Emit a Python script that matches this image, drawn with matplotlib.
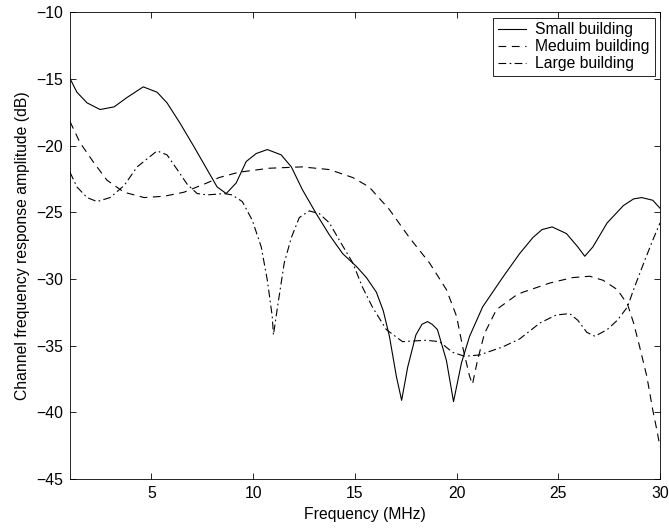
import matplotlib
matplotlib.use('Agg')
import matplotlib.pyplot as plt

plt.rcParams['font.family'] = ['Liberation Sans', 'DejaVu Sans']

# Small building (solid)
small_x = [1.0, 1.34, 1.84, 2.48, 3.17, 3.8, 4.6, 5.28, 5.77, 6.4, 7.1, 7.74, 8.23,
           8.68, 9.17, 9.66, 10.15, 10.7, 11.38, 11.88, 12.42, 13.1, 13.75, 14.4,
           15.1, 15.57, 16.06, 16.4, 16.7, 17.04, 17.3, 17.6, 18.0, 18.3, 18.57,
           18.8, 19.06, 19.5, 19.85, 20.24, 20.64, 21.28, 22.26, 23.1, 23.75,
           24.2, 24.7, 25.4, 25.96, 26.3, 26.7, 27.4, 28.2, 28.7, 29.1, 29.64, 30.0]
small_y = [-14.97, -16.0, -16.8, -17.3, -17.1, -16.4, -15.6, -16.0, -16.8, -18.3,
           -20.1, -21.8, -23.1, -23.6, -22.8, -21.2, -20.6, -20.3, -20.7, -21.6,
           -23.3, -25.1, -26.7, -28.1, -29.1, -29.9, -31.0, -32.4, -34.3, -37.3,
           -39.1, -36.6, -34.2, -33.4, -33.2, -33.4, -33.8, -36.1, -39.2, -36.3,
           -34.3, -32.1, -29.9, -28.1, -26.9, -26.3, -26.1, -26.6, -27.6, -28.3,
           -27.6, -25.8, -24.5, -24.0, -23.9, -24.1, -24.7]

# Medium building (dashed)
medium_x = [1.0, 1.5, 2.18, 2.82, 3.66, 4.64, 5.63, 6.6, 7.74, 8.33, 9.3, 10.8, 12.4,
            13.75, 14.9, 15.7, 16.7, 17.68, 18.67, 19.5, 20.0, 20.3, 20.64, 20.78,
            21.03, 21.37, 21.96, 22.95, 23.25, 24.6, 25.7, 26.55, 27.2, 27.9, 28.4,
            28.7, 29.0, 29.35, 29.64, 29.84, 30.0]
medium_y = [-18.2, -19.8, -21.3, -22.6, -23.5, -23.9, -23.8, -23.5, -22.8, -22.4,
            -22.0, -21.7, -21.6, -21.8, -22.4, -23.1, -24.8, -26.9, -28.8, -30.8,
            -32.8, -35.1, -37.3, -37.9, -36.1, -34.1, -32.3, -31.2, -31.0, -30.3,
            -29.9, -29.8, -30.1, -30.8, -31.9, -33.3, -35.1, -37.3, -39.8, -41.3,
            -42.6]

# Large building (dash-dot)
large_x = [1.0, 1.34, 1.84, 2.33, 2.97, 3.66, 4.3, 5.28, 5.77, 6.27, 6.76, 7.25,
           7.74, 8.58, 8.97, 9.47, 9.96, 10.4, 10.7, 10.94, 11.0, 11.2, 11.53,
           11.88, 12.27, 12.76, 13.25, 13.75, 14.24, 14.9, 15.37, 15.86, 16.55,
           17.34, 18.5, 19.16, 19.8, 20.4, 21.13, 22.26, 23.1, 24.1, 24.9, 25.56,
           25.96, 26.4, 26.8, 27.4, 27.9, 28.4, 28.7, 29.2, 29.64, 30.0]
large_y = [-22.0, -23.1, -23.9, -24.2, -23.9, -23.0, -21.6, -20.4, -20.7, -21.8,
           -22.9, -23.6, -23.7, -23.6, -23.7, -24.2, -25.6, -27.6, -30.1, -32.8,
           -34.2, -32.1, -28.8, -26.9, -25.4, -24.9, -25.1, -25.8, -27.1, -28.8,
           -30.6, -32.1, -33.8, -34.7, -34.6, -34.7, -35.5, -35.8, -35.7, -35.1,
           -34.5, -33.3, -32.7, -32.6, -33.1, -34.0, -34.3, -33.8, -33.1, -32.1,
           -30.8, -28.8, -27.1, -25.8]

labels = ['Small building', 'Meduim building', 'Large building']

fig = plt.figure(figsize=(6.69, 5.29), dpi=100)
ax = fig.add_axes([0.1046, 0.0945, 0.882, 0.8825])

ax.plot(small_x, small_y, color='black', linewidth=0.8, linestyle='-', label=labels[0])
ax.plot(medium_x, medium_y, color='black', linewidth=0.8, linestyle=(0, (7, 5)), label=labels[1])
ax.plot(large_x, large_y, color='black', linewidth=0.8, linestyle=(0, (7, 3, 1.5, 3)), label=labels[2])

ax.set_xlim(1, 30)
ax.set_ylim(-45, -10)
ax.set_xticks([5, 10, 15, 20, 25, 30])
ax.set_yticks(range(-45, -9, 5))
ax.tick_params(direction='in', top=True, right=True, labelsize=11.3, length=4, width=0.6, pad=5)
for s in ax.spines.values():
    s.set_linewidth(0.6)

ax.set_xlabel('Frequency (MHz)', fontsize=11.3, labelpad=4)
ax.set_ylabel('Channel frequency response amplitude (dB)', fontsize=11.3, labelpad=4)

leg = ax.legend(loc='upper right', fontsize=11.3, frameon=True, fancybox=False,
                handlelength=1.8, handletextpad=0.6, borderpad=0.3,
                labelspacing=0.12, borderaxespad=0.35, framealpha=1)
leg.get_frame().set_edgecolor('black')
leg.get_frame().set_linewidth(0.6)

fig.savefig('out.png', dpi=100)
